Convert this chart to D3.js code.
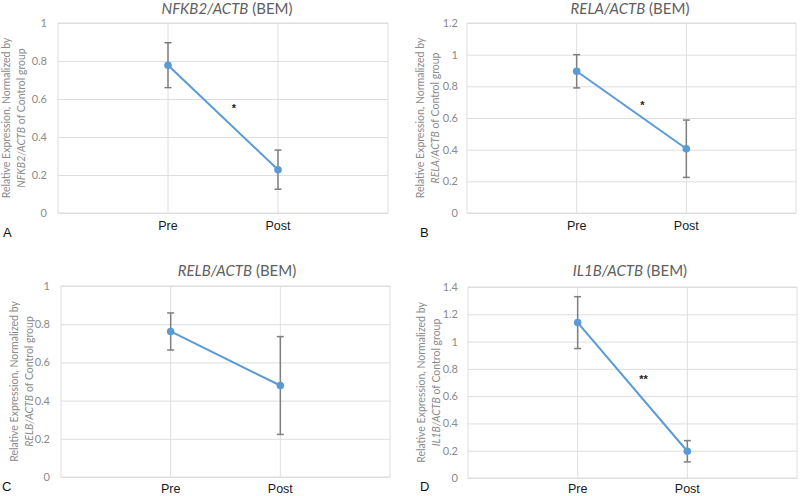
<!DOCTYPE html>
<html>
<head>
<meta charset="utf-8">
<script src="https://cdn.jsdelivr.net/npm/d3@7"></script>
<style>
  html, body { margin: 0; padding: 0; background: #fff; }
  svg { display: block; }
</style>
</head>
<body>
<svg id="chart" width="800" height="496"></svg>
<script>
// ---------------- DATA ----------------
const genes = ["NFKB2/ACTB", "RELA/ACTB", "RELB/ACTB", "IL1B/ACTB"];
const panelLetters = ["A", "B", "C", "D"];
const categories = ["Pre", "Post"];
const means = [
  [0.778, 0.228],
  [0.895, 0.406],
  [0.762, 0.479],
  [1.139, 0.196]
];
const errors = [
  [0.118, 0.103],
  [0.105, 0.181],
  [0.097, 0.256],
  [0.190, 0.078]
];
const yMaxes = [1, 1.2, 1, 1.4];
const yTickValues = [
  [0, 0.2, 0.4, 0.6, 0.8, 1],
  [0, 0.2, 0.4, 0.6, 0.8, 1, 1.2],
  [0, 0.2, 0.4, 0.6, 0.8, 1],
  [0, 0.2, 0.4, 0.6, 0.8, 1, 1.2, 1.4]
];
const stars = ["*", "*", "", "**"];
const starValues = [0.56, 0.69, null, 0.734];

// ---------------- LAYOUT ----------------
const boxes = [
  {left: 58,  right: 388, top: 23,  bottom: 213, pad: 11, titleX: 227, titleY: 13.5, yl1: -52, yl2: -37, letterX: 3,   letterY: 237, catY: 230},
  {left: 467, right: 796, top: 23,  bottom: 213, pad: 9,  titleX: 630, titleY: 13.5, yl1: -47, yl2: -32, letterX: 420, letterY: 237, catY: 230},
  {left: 61,  right: 390, top: 286, bottom: 477, pad: 11, titleX: 237, titleY: 276,  yl1: -47, yl2: -32, letterX: 2,   letterY: 491, catY: 493},
  {left: 468, right: 797, top: 287, bottom: 478, pad: 10, titleX: 630, titleY: 276,  yl1: -47, yl2: -32, letterX: 420, letterY: 491, catY: 493}
];

const svg = d3.select("#chart");
const gridColor = "#dedede";
const lineColor = "#5b9bd5";
const errColor = "#7f7f7f";
const uiFont = "Lato, 'Open Sans', 'DejaVu Sans', sans-serif";

genes.forEach((gene, i) => {
  const b = boxes[i];
  const g = svg.append("g");
  const x = d3.scaleLinear().domain([0, categories.length + 1]).range([b.left, b.right]);
  const y = d3.scaleLinear().domain([0, yMaxes[i]]).range([b.bottom, b.top]);

  const yAxis = d3.axisLeft(y)
    .tickValues(yTickValues[i])
    .tickFormat(d => String(+d.toFixed(1)))
    .tickSize(-(b.right - b.left))
    .tickPadding(b.pad);
  const ya = g.append("g").attr("transform", `translate(${b.left},0)`).call(yAxis);
  ya.select(".domain").remove();
  ya.selectAll(".tick line").attr("stroke", gridColor).attr("stroke-width", 1);
  ya.selectAll(".tick text")
    .attr("fill", "#8a8a8a")
    .style("font-family", uiFont)
    .style("font-size", "11px");

  g.selectAll(".vgrid").data(categories).enter().append("line")
    .attr("x1", (d, j) => x(j + 1)).attr("x2", (d, j) => x(j + 1))
    .attr("y1", b.top).attr("y2", b.bottom)
    .attr("stroke", gridColor).attr("stroke-width", 1);

  g.append("rect")
    .attr("x", b.left).attr("y", b.top)
    .attr("width", b.right - b.left).attr("height", b.bottom - b.top)
    .attr("fill", "none").attr("stroke", gridColor).attr("stroke-width", 1);

  g.selectAll(".cat").data(categories).enter().append("text")
    .attr("x", (d, j) => x(j + 1)).attr("y", b.catY)
    .attr("text-anchor", "middle")
    .attr("fill", "#1a1a1a")
    .style("font-family", "'Liberation Sans', Arial, sans-serif")
    .style("font-size", "12.5px")
    .text(d => d);

  const pts = means[i].map((m, j) => ({x: j + 1, m: m, e: errors[i][j]}));

  pts.forEach(p => {
    const cx = x(p.x);
    g.append("line").attr("x1", cx).attr("x2", cx)
      .attr("y1", y(p.m - p.e)).attr("y2", y(p.m + p.e))
      .attr("stroke", errColor).attr("stroke-width", 1.5);
    [p.m - p.e, p.m + p.e].forEach(v => {
      g.append("line").attr("x1", cx - 3.5).attr("x2", cx + 3.5)
        .attr("y1", y(v)).attr("y2", y(v))
        .attr("stroke", errColor).attr("stroke-width", 1.5);
    });
  });

  g.append("path")
    .datum(pts)
    .attr("d", d3.line().x(p => x(p.x)).y(p => y(p.m)))
    .attr("fill", "none").attr("stroke", lineColor).attr("stroke-width", 2);

  g.selectAll(".pt").data(pts).enter().append("circle")
    .attr("cx", p => x(p.x)).attr("cy", p => y(p.m)).attr("r", 3.8)
    .attr("fill", lineColor);

  if (stars[i]) {
    g.append("text")
      .attr("x", x(1.6)).attr("y", y(starValues[i]) + 5)
      .attr("text-anchor", "middle")
      .attr("fill", "#222")
      .style("font-family", "'Liberation Sans', Arial, sans-serif")
      .style("font-size", "11px")
      .style("font-weight", "bold")
      .text(stars[i]);
  }

  const t = g.append("text")
    .attr("x", b.titleX).attr("y", b.titleY)
    .attr("text-anchor", "middle")
    .attr("fill", "#606060")
    .style("font-family", uiFont)
    .style("font-size", "15px");
  t.append("tspan").style("font-style", "italic").text(gene);
  t.append("tspan").text(" (BEM)");

  const cy = (b.top + b.bottom) / 2;
  g.append("text")
    .attr("transform", `translate(${b.left + b.yl1 + 3.5},${cy}) rotate(-90)`)
    .attr("text-anchor", "middle")
    .attr("fill", "#8a8a8a")
    .style("font-family", uiFont)
    .style("font-size", "10.5px")
    .text("Relative Expression, Normalized by");
  const l2 = g.append("text")
    .attr("transform", `translate(${b.left + b.yl2 + 3.5},${cy}) rotate(-90)`)
    .attr("text-anchor", "middle")
    .attr("fill", "#8a8a8a")
    .style("font-family", uiFont)
    .style("font-size", "10.5px");
  l2.append("tspan").style("font-style", "italic").text(gene);
  l2.append("tspan").text(" of Control group");

  g.append("text")
    .attr("x", b.letterX).attr("y", b.letterY)
    .attr("fill", "#111")
    .style("font-family", "'Liberation Sans', Arial, sans-serif")
    .style("font-size", "13px")
    .text(panelLetters[i]);
});
</script>
</body>
</html>
